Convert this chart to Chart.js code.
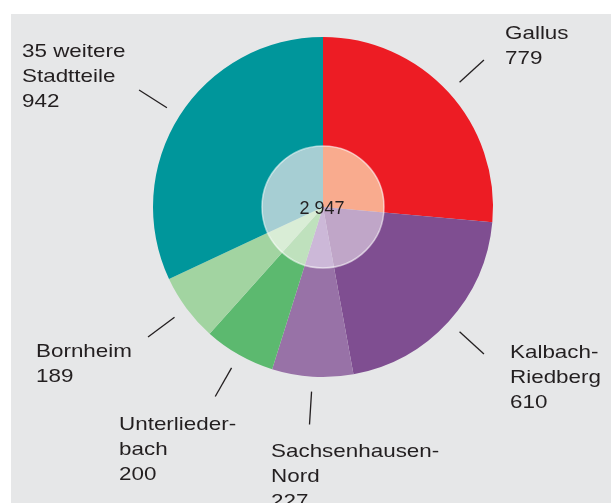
<!DOCTYPE html>
<html lang="de">
<head>
<meta charset="utf-8">
<script src="https://cdn.jsdelivr.net/npm/chart.js@4/dist/chart.umd.min.js"></script>
<style>
  html, body { margin: 0; padding: 0; background: #ffffff; }
  #panel { position: absolute; left: 11px; top: 14px; right: 0; bottom: 0; background: #e6e7e8; }
  #wrap { position: absolute; left: 0; top: 0; width: 611px; height: 503px; }
</style>
</head>
<body>
<div id="panel"></div>
<div id="wrap"><canvas id="pie" width="611" height="503"></canvas></div>
<script>
// Daten: Stadtteile (im Uhrzeigersinn ab 12 Uhr)
const districts = ['Gallus', 'Kalbach-Riedberg', 'Sachsenhausen-Nord', 'Unterliederbach', 'Bornheim', '35 weitere Stadtteile'];
const counts = [779, 610, 227, 200, 189, 942];
const totalLabel = '2 947';

const outerColors = ['#ed1c24', '#7f4e91', '#9872a7', '#5cb96f', '#a2d4a1', '#00969b'];
const innerColors = ['#f9ab8e', '#c0a6c8', '#ccb8d8', '#bfe1bd', '#d9edd6', '#a6ced3'];

// Beschriftung: Textzeilen + Position (linke Kante, erste Grundlinie)
const labelLines = [
  ['Gallus', '779'],
  ['Kalbach-', 'Riedberg', '610'],
  ['Sachsenhausen-', 'Nord', '227'],
  ['Unterlieder-', 'bach', '200'],
  ['Bornheim', '189'],
  ['35 weitere', 'Stadtteile', '942']
];
const labelPos = [[505, 39], [510, 358], [271, 457], [119, 430], [36, 357], [22, 57]];

const FONT = '"Liberation Sans", Arial, Helvetica, sans-serif';
const STRETCH = 1.18; // Schrift im Original etwas breiter

function wideText(ctx, t, x, y) {
  ctx.save();
  ctx.translate(x, y);
  ctx.scale(STRETCH, 1);
  ctx.fillText(t, 0, 0);
  ctx.restore();
}

const labelPlugin = {
  id: 'labels',
  afterDraw(chart) {
    const ctx = chart.ctx;
    const arcs = chart.getDatasetMeta(0).data;
    const inner = chart.getDatasetMeta(1).data[0];
    ctx.save();

    // heller Ring um den Innenkreis
    ctx.beginPath();
    ctx.arc(inner.x, inner.y, inner.outerRadius, 0, Math.PI * 2);
    ctx.strokeStyle = 'rgba(255,255,255,0.55)';
    ctx.lineWidth = 1.5;
    ctx.stroke();

    // Summe in der Mitte
    ctx.fillStyle = '#231f20';
    ctx.font = '18px ' + FONT;
    ctx.textAlign = 'center';
    ctx.textBaseline = 'alphabetic';
    ctx.fillText(totalLabel, inner.x - 1, inner.y + 7);

    // Hinweislinien + Texte
    ctx.textAlign = 'left';
    ctx.font = '19px ' + FONT;
    ctx.strokeStyle = '#231f20';
    ctx.lineWidth = 1.3;
    arcs.forEach((arc, i) => {
      const mid = (arc.startAngle + arc.endAngle) / 2;
      const r1 = arc.outerRadius + 15;
      const r2 = arc.outerRadius + 48;
      ctx.beginPath();
      ctx.moveTo(arc.x + Math.cos(mid) * r1, arc.y + Math.sin(mid) * r1);
      ctx.lineTo(arc.x + Math.cos(mid) * r2, arc.y + Math.sin(mid) * r2);
      ctx.stroke();

      const [lx, ly] = labelPos[i];
      labelLines[i].forEach((t, k) => wideText(ctx, t, lx, ly + k * 25));
    });
    ctx.restore();
  }
};

new Chart(document.getElementById('pie'), {
  type: 'pie',
  data: {
    labels: districts,
    datasets: [
      { data: counts, backgroundColor: outerColors, borderWidth: 0, weight: 109 },
      { data: counts, backgroundColor: innerColors, borderWidth: 0, weight: 61 }
    ]
  },
  options: {
    responsive: false,
    animation: false,
    layout: { padding: { left: 153, right: 118, top: 37, bottom: 126 } },
    plugins: {
      legend: { display: false },
      tooltip: { enabled: false }
    }
  },
  plugins: [labelPlugin]
});
</script>
</body>
</html>
